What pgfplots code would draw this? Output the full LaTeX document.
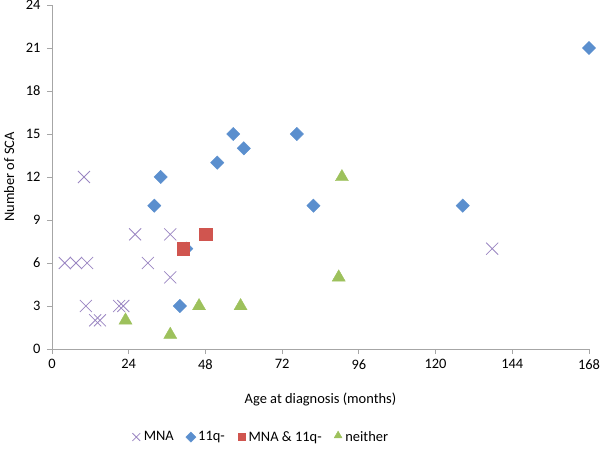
\documentclass[border=0pt]{standalone}
\usepackage{fontspec}
\setmainfont{Carlito}
\usepackage{pgfplots}
\pgfplotsset{compat=1.18}

\definecolor{mnacol}{HTML}{9A86C2}
\definecolor{qcol}{HTML}{5B8FCE}
\definecolor{bothcol}{HTML}{D0554F}
\definecolor{neithercol}{HTML}{9DC15C}
\definecolor{axisgray}{HTML}{A6A6A6}

\pgfplotsset{
    smalllegend/.style={legend image code/.code={\draw[##1, mark size=3.6bp] plot coordinates {(0.2cm,0cm)};
        \path (0.05cm,0cm) (0.38cm,0cm);}},
    xlegend/.style={legend image code/.code={\draw[##1, mark size=5.5bp] plot coordinates {(0.2cm,0cm)};
        \path (0.05cm,0cm) (0.38cm,0cm);}},
    trilegend/.style={legend image code/.code={\draw[##1, mark size=4.6bp] plot coordinates {(0.2cm,0.05cm)};
        \path (0.05cm,0cm) (0.38cm,0cm);}},
}

\begin{document}
\begin{tikzpicture}
\begin{axis}[
    at={(0,0)}, anchor=south west,
    scale only axis,
    width=537bp, height=344bp,
    xmin=0, xmax=168, ymin=0, ymax=24,
    xtick={0,24,...,168}, ytick={0,3,...,24},
    axis x line*=bottom, axis y line*=left,
    axis line style={draw=axisgray, line width=0.9pt, -},
    tick style={draw=axisgray, line width=0.9pt},
    tick align=outside, major tick length=5bp,
    minor tick num=0,
    /pgf/number format/assume math mode=true,
    tick label style={font=\fontsize{14.5}{16}\selectfont, text=black},
    xticklabel style={yshift=-2bp},
    yticklabel style={xshift=-3bp},
    label style={font=\fontsize{14.5}{16}\selectfont},
    xlabel={Age at diagnosis (months)},
    ylabel={Number of SCA},
    xlabel style={at={(axis description cs:0.5,-0.148)}, anchor=center},
    ylabel style={at={(axis description cs:-0.080,0.5)}, anchor=center},
    legend style={at={(axis description cs:0.389,-0.256)}, anchor=center,
        draw=none, fill=none, legend columns=4,
        font=\fontsize{14.5}{16}\selectfont,
        /tikz/every even column/.append style={column sep=10bp}},
    legend cell align=left,
    smalllegend,
    clip=false,
]

% MNA
\addplot[only marks, mark=x, mark size=8.5bp, draw=mnacol, line width=0.8pt, xlegend]
coordinates {
(4,6)(7.5,6)(11,6)(10,12)(10.6,3)(13.5,2)(15,2)(21,3)(22.3,3)
(26,8)(30,6)(37,8)(37,5)(137.7,7)
};
\addlegendentry{MNA}

% 11q-
\addplot[only marks, mark=square*, mark options={rotate=45}, mark size=4.7bp, draw=qcol, fill=qcol]
coordinates {
(34,12)(32,10)(40,3)(42,7)(51.7,13)(60,14)(56.7,15)(76.6,15)
(81.8,10)(128.5,10)(168,21)
};
\addlegendentry{11q-}

% MNA & 11q-
\addplot[only marks, mark=square*, mark size=6.3bp, draw=bothcol, fill=bothcol]
coordinates {
(41,7)(48,8)
};
\addlegendentry{MNA \& 11q-}

% neither
\addplot[only marks, mark=triangle*, mark size=7.5bp, draw=neithercol, fill=neithercol, trilegend]
coordinates {
(23,2)(37,1)(46,3)(59,3)(90.7,12)(89.7,5)
};
\addlegendentry{neither}

\end{axis}
\pgfresetboundingbox
\path (-52bp,-100bp) rectangle (548bp,349bp);
\end{tikzpicture}
\end{document}
